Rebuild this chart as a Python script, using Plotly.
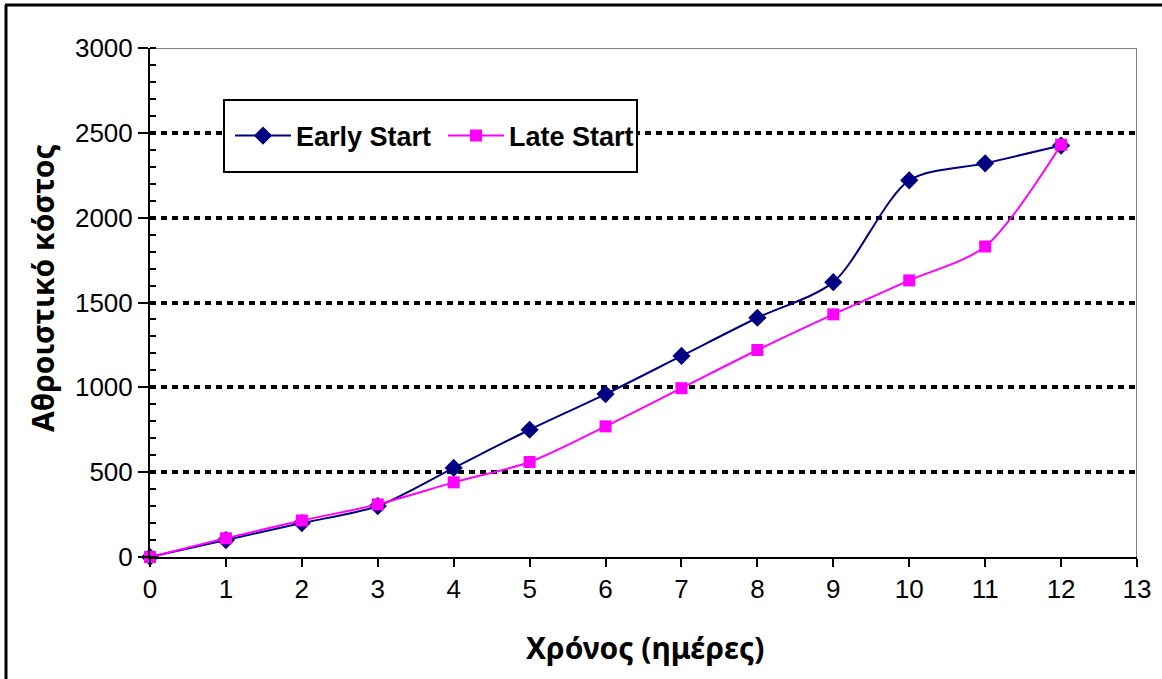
import plotly.graph_objects as go

days = [0, 1, 2, 3, 4, 5, 6, 7, 8, 9, 10, 11, 12]
early_start = [0, 100, 200, 300, 525, 750, 960, 1185, 1410, 1620, 2220, 2320, 2425]
late_start = [0, 110, 215, 310, 440, 560, 770, 995, 1220, 1430, 1630, 1830, 2430]

x_title = "Χρόνος (ημέρες)"
y_title = "Αθροιστικό κόστος"

W, H = 1162, 679
L, R, T, B = 150, 25, 48, 122
pw, ph = W - L - R, H - T - B

def px(x):
    return (x - L) / pw

def py(y):
    return (H - B - y) / ph

FONT = "Liberation Sans, Arial, sans-serif"
TFONT = "Noto Sans, Open Sans, sans-serif"

fig = go.Figure()
fig.add_trace(go.Scatter(
    x=days, y=early_start, name="Early Start", mode="lines+markers",
    line=dict(color="#000080", width=2, shape="spline", smoothing=0.8),
    marker=dict(symbol="diamond", size=14, color="#000080"),
    cliponaxis=False,
))
fig.add_trace(go.Scatter(
    x=days, y=late_start, name="Late Start", mode="lines+markers",
    line=dict(color="#FF00FF", width=2, shape="spline", smoothing=0.8),
    marker=dict(symbol="square", size=12, color="#FF00FF"),
    cliponaxis=False,
))

shapes = [
    dict(type="line", xref="x", yref="y", x0=0, x1=13, y0=3000, y1=3000,
         line=dict(color="#808080", width=2), layer="below"),
    dict(type="line", xref="x", yref="y", x0=13, x1=13, y0=0, y1=3000,
         line=dict(color="#808080", width=2), layer="below"),
    dict(type="line", xref="paper", yref="paper", x0=px(6), x1=px(6), y0=py(5), y1=py(700),
         line=dict(color="black", width=3)),
    dict(type="line", xref="paper", yref="paper", x0=px(5), x1=px(1170), y0=py(5), y1=py(5),
         line=dict(color="black", width=3)),
    dict(type="rect", xref="paper", yref="paper", x0=px(224), x1=px(637), y0=py(172), y1=py(100),
         line=dict(color="black", width=2), fillcolor="white", layer="above"),
]

annotations = [
    dict(text=x_title, xref="paper", yref="paper", x=px(645), y=py(647),
         xanchor="center", yanchor="middle", showarrow=False,
         font=dict(size=30, family=TFONT, weight="bold", color="black")),
    dict(text=y_title, xref="paper", yref="paper", x=px(42), y=py(288),
         xanchor="center", yanchor="middle", showarrow=False, textangle=-90,
         font=dict(size=30, family=TFONT, weight="bold", color="black")),
]

fig.update_layout(
    width=W, height=H,
    margin=dict(l=L, r=R, t=T, b=B),
    paper_bgcolor="white", plot_bgcolor="white",
    font=dict(family=FONT, color="black", size=26),
    shapes=shapes,
    annotations=annotations,
    showlegend=True,
    legend=dict(
        orientation="h", x=px(230), y=py(136), xanchor="left", yanchor="middle",
        bgcolor="rgba(0,0,0,0)", borderwidth=0,
        font=dict(family=FONT, size=27, weight="bold", color="black"),
        itemwidth=56, entrywidth=142,
    ),
    xaxis=dict(
        range=[0, 13], dtick=1, tick0=0,
        showgrid=False, zeroline=False,
        showline=True, linecolor="black", linewidth=2,
        ticks="outside", ticklen=8, tickwidth=2, tickcolor="black",
        tickfont=dict(size=26, family=FONT),
    ),
    yaxis=dict(
        range=[0, 3000], dtick=500, tick0=0,
        showgrid=True, gridcolor="black", gridwidth=4, griddash="6px,5px",
        zeroline=False,
        showline=True, linecolor="black", linewidth=2,
        ticks="outside", ticklen=10, tickwidth=2, tickcolor="black",
        tickfont=dict(size=26, family=FONT),
        minor=dict(dtick=100, ticks="inside", ticklen=6, tickwidth=2, tickcolor="black", showgrid=False),
    ),
)

fig.write_html("out.html")
